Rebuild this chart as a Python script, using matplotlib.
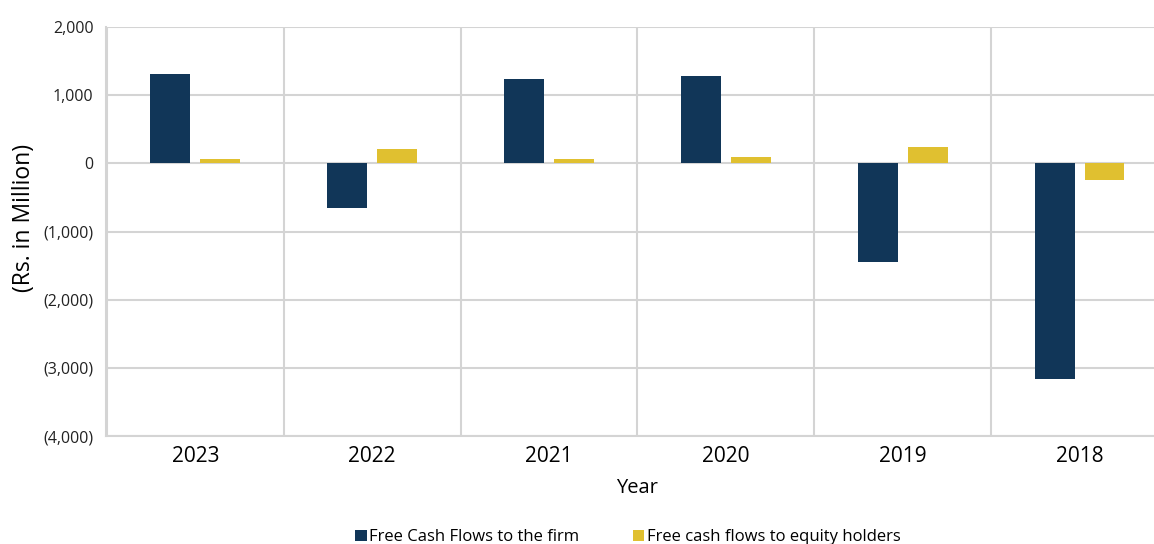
import matplotlib.pyplot as plt
import numpy as np
from matplotlib.ticker import FuncFormatter, MultipleLocator

plt.rcParams['font.family'] = ['Open Sans', 'DejaVu Sans']

years = ['2023', '2022', '2021', '2020', '2019', '2018']
fcff = [1305, -660, 1232, 1276, -1452, -3167]
fcfe = [70, 205, 70, 90, 242, -250]

navy = '#113658'
gold = '#E0C030'
grid_col = '#D4D4D4'

fig = plt.figure(figsize=(11.54, 5.44), dpi=100)
ax = fig.add_axes([106 / 1154, 1 - 436 / 544, 1062 / 1154, 409 / 544])

x = np.arange(len(years))
w = 0.226
off = 0.141
ax.bar(x - off, fcff, w, color=navy, label='Free Cash Flows to the firm', zorder=3)
ax.bar(x + off, fcfe, w, color=gold, label='Free cash flows to equity holders', zorder=3)

ax.set_xlim(-0.505, len(years) - 0.505)
ax.set_ylim(-4000, 2000)
ax.yaxis.set_major_locator(MultipleLocator(1000))


def fmt(v, pos):
    if v < 0:
        return f'({abs(v):,.0f})'
    return f'{v:,.0f}'


ax.yaxis.set_major_formatter(FuncFormatter(fmt))
ax.set_xticks(x)
ax.set_xticklabels(years, fontsize=15)
ax.set_xticks(np.arange(len(years) + 1) - 0.5, minor=True)
ax.grid(axis='y', which='major', color=grid_col, lw=1.5, zorder=0)
ax.grid(axis='x', which='minor', color=grid_col, lw=1.5, zorder=0)
ax.tick_params(axis='both', which='both', length=0)
ax.tick_params(axis='y', labelsize=11.5, pad=9, colors='#222222')
ax.tick_params(axis='x', pad=7)
for s in ['top', 'right']:
    ax.spines[s].set_visible(False)
for s in ['left', 'bottom']:
    ax.spines[s].set_color(grid_col)
    ax.spines[s].set_linewidth(1.5)

ax.set_xlabel('Year', fontsize=14.5, labelpad=8)
ax.set_ylabel('(Rs. in Million)', fontsize=16.5)
ax.yaxis.set_label_coords(-0.066, 0.532)

fig.legend(loc='lower center', bbox_to_anchor=(0.544, -0.03), ncol=2, frameon=False,
           fontsize=12, handlelength=0.7, handleheight=0.7, handletextpad=0.15,
           columnspacing=3.2)

fig.savefig('out.png', dpi=100)
